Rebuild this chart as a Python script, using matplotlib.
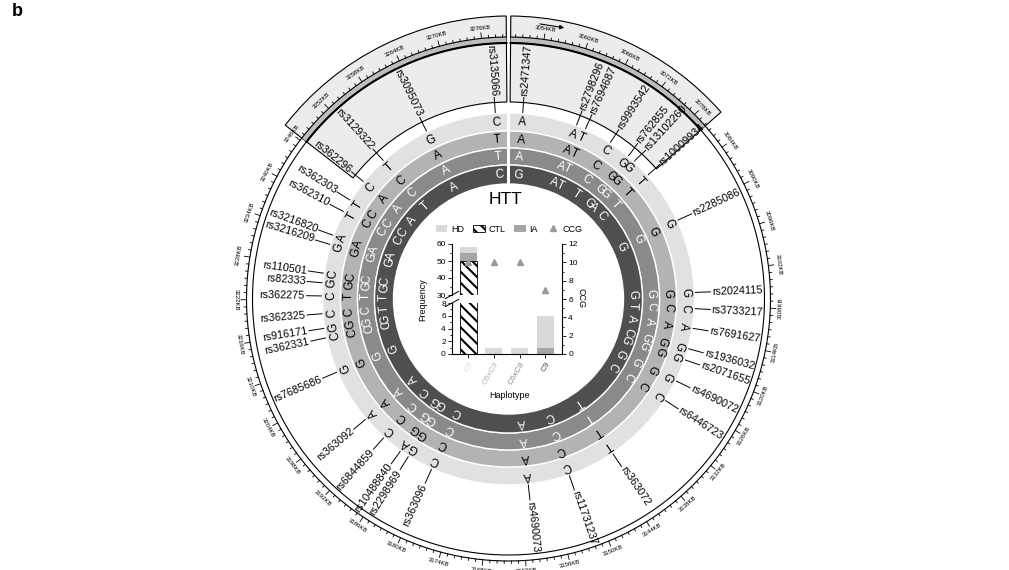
import numpy as np
import matplotlib
matplotlib.use('Agg')
import matplotlib.pyplot as plt
from matplotlib.patches import Wedge, Rectangle, Patch
from matplotlib.lines import Line2D

plt.rcParams['font.family'] = ['Liberation Sans', 'DejaVu Sans']
plt.rcParams['hatch.linewidth'] = 1.5

# ---------------- data ----------------
snp_ids = ['rs2471347', 'rs2798296', 'rs7694687', 'rs9993542', 'rs762855', 'rs13102260',
           'rs10009934', 'rs2285086', 'rs2024115', 'rs3733217', 'rs7691627', 'rs1936032',
           'rs2071655', 'rs4690072', 'rs6446723', 'rs363072', 'rs11731237', 'rs4690073',
           'rs363096', 'rs2298969', 'rs10488840', 'rs6844859', 'rs363092', 'rs7685686',
           'rs362331', 'rs916171', 'rs362325', 'rs362275', 'rs82333', 'rs110501',
           'rs3216209', 'rs3216820', 'rs362310', 'rs362303', 'rs362296', 'rs3129322',
           'rs3095073', 'rs3135066']
snp_pos_kb = [3051.8, 3062.7, 3064.6, 3070.2, 3074.6, 3076.2, 3080.0, 3090.7, 3105.4, 3108.6,
              3112.5, 3116.6, 3118.9, 3123.4, 3127.8, 3142.6, 3152.2, 3160.5, 3180.0, 3185.2,
              3187.1, 3191.3, 3196.4, 3207.3, 3214.4, 3216.3, 3219.2, 3222.7, 3225.3, 3227.2,
              3233.0, 3234.9, 3240.0, 3242.6, 3247.1, 3252.8, 3263.1, 3277.2]
hap_C6    = list("AATCGGTG" + "GCAGGGC" + "TCA" + "CGACA" + "G" + "CGC" + "CGC" + "GA" + "TT" + "CTGC")
hap_C6xC9 = list("AATCGGTG" + "GCAGGGC" + "TCA" + "CGGCA" + "G" + "CGC" + "TGC" + "GA" + "CC" + "ACAT")
hap_C6xC8 = list("AATCGGTG" + "GCAGGGC" + "TCA" + "CGGCA" + "G" + "CGC" + "TGC" + "GA" + "CC" + "ACAT")
hap_C9    = list("GATTGACG" + "GTACGGC" + "TCA" + "CGGCA" + "G" + "CGT" + "TGC" + "GA" + "CC" + "ATAC")

region_kb = (3049.0, 3279.8)
zoom_regions_kb = [(3049.3, 3080.2), (3246.4, 3279.5)]
tick_kb_major = list(range(3054, 3280, 6))
tick_kb_minor = list(range(3050, 3280, 1))

haplotypes = ['C6', 'C6xC9', 'C6xC8', 'C9']
freq_HD = [58, 1, 1, 6]
freq_IA = [55, 0, 0, 1]
freq_CTL = [50, 0, 0, 0]
ccg = [10, 10, 10, 7]

# ---------------- styles ----------------
ring_colors = ['#e1e1e1', '#b3b3b3', '#8a8a8a', '#4f4f4f']
letter_colors = ['black', 'black', 'white', 'white']
c_HD, c_IA, c_CCG = '#d9d9d9', '#a6a6a6', '#9a9a9a'

W, H = 1009, 570
fig = plt.figure(figsize=(W / 100, H / 100), dpi=100)
ax = fig.add_axes([0, 0, 1, 1])
ax.set_xlim(0, W)
ax.set_ylim(0, H)
ax.axis('off')

CX, CY = 508.5, 271.0


def kb2ang(kb):
    k0, k1 = region_kb
    return 90.0 - 360.0 * (np.asarray(kb, float) - k0) / (k1 - k0)


def pol(r, ang):
    a = np.deg2rad(ang)
    return CX + np.asarray(r) * np.cos(a), CY + np.asarray(r) * np.sin(a)


# highlighted (zoomed) regions
for k0, k1 in zoom_regions_kb:
    a0, a1 = float(kb2ang(k1)), float(kb2ang(k0))
    ax.add_patch(Wedge((CX, CY), 283, a0, a1, width=283 - 197, facecolor='#ececec',
                       edgecolor='black', lw=0.8, zorder=1))
    ax.add_patch(Wedge((CX, CY), 262, a0, a1, width=6, facecolor='#bdbdbd',
                       edgecolor='none', zorder=2))
    th = np.linspace(a0, a1, 300)
    ax.plot(*pol(256, th), color='black', lw=1.5, zorder=3)

# scale circle
th = np.linspace(float(kb2ang(3049.3)), float(kb2ang(3279.5)), 3000)
for r in (256, 262):
    ax.plot(*pol(r, th), color='black', lw=0.8, zorder=3)
for kb in tick_kb_minor:
    a = float(kb2ang(kb))
    r2 = 267.5 if kb in tick_kb_major else 264.5
    ax.plot(*pol(np.array([262, r2]), a), color='black', lw=0.6, zorder=3)
for kb in tick_kb_major:
    a = float(kb2ang(kb))
    rot = (a % 180) - 90
    x, y = pol(272.5, a)
    ax.text(x, y, f'{kb}KB', rotation=rot, ha='center', va='center',
            rotation_mode='anchor', fontsize=4.3, zorder=4)

# direction arrow
p0 = pol(277, float(kb2ang(3052.8)))
p1 = pol(277, float(kb2ang(3056.8)))
ax.annotate('', xy=p1, xytext=p0,
            arrowprops=dict(arrowstyle='-|>', color='black', lw=0.8, mutation_scale=6), zorder=5)

# haplotype rings
ring_r = [(168, 186), (151, 168), (134, 151), (115, 134)]
for (ri, ro), col in zip(ring_r, ring_colors):
    ax.add_patch(Wedge((CX, CY), ro, 0, 360, width=ro - ri, facecolor=col,
                       edgecolor='white', lw=1.0, zorder=4))
ax.add_patch(Rectangle((CX - 1.8, CY + 100), 3.6, 95, facecolor='white', edgecolor='none', zorder=5))

angs = kb2ang(snp_pos_kb)
letter_r = [177, 159.5, 142.5, 124.5]
for hap, r, col in zip([hap_C6, hap_C6xC9, hap_C6xC8, hap_C9], letter_r, letter_colors):
    for a, ch in zip(angs, hap):
        x, y = pol(r, a)
        ax.text(x, y, ch, rotation=a - 90, ha='center', va='center', rotation_mode='anchor',
                fontsize=8.5, color=col, zorder=6)


# SNP labels
def spread(vals, min_sep=3.0, iters=300):
    lab = np.array(vals, float)
    for _ in range(iters):
        moved = False
        for i in range(len(lab) - 1):
            d = lab[i] - lab[i + 1]
            if d < min_sep:
                s = (min_sep - d) / 2
                lab[i] += s
                lab[i + 1] -= s
                moved = True
        if not moved:
            break
    return lab


lab_angs = spread(angs)
for a, la, name in zip(angs, lab_angs, snp_ids):
    pa = pol(187, a)
    pb = pol(191, a)
    pc = pol(202, la)
    ax.plot([pa[0], pb[0], pc[0]], [pa[1], pb[1], pc[1]], color='black', lw=0.7, zorder=6)
    x, y = pol(203.5, la)
    if np.cos(np.deg2rad(la)) >= 0:
        rot, ha = la, 'left'
    else:
        rot, ha = la + 180, 'right'
    ax.text(x, y, name, rotation=rot, ha=ha, va='center', rotation_mode='anchor',
            fontsize=7.8, zorder=7)

fig.text(12 / W, 1 - 3 / H, 'b', fontweight='bold', fontsize=13, va='top', ha='left')

# ---------------- inner bar chart ----------------
L = 452 / W
Wd = (562 - 452) / W
ax_low = fig.add_axes([L, (H - 354) / H, Wd, (354 - 303) / H])
ax_up = fig.add_axes([L, (H - 295) / H, Wd, (295 - 244) / H])
ax_ccg = fig.add_axes([L, (H - 354) / H, Wd, (354 - 244) / H])
xpos = np.arange(len(haplotypes))
bw = 0.66
for axx in (ax_low, ax_up):
    axx.set_facecolor('none')
    for vals, kw in ((freq_HD, dict(color=c_HD, zorder=1)),
                     (freq_IA, dict(color=c_IA, zorder=2)),
                     (freq_CTL, dict(facecolor='white', edgecolor='black', hatch='\\\\\\',
                                     lw=0.6, zorder=3))):
        m = np.array(vals) > 0
        axx.bar(xpos[m], np.array(vals)[m], width=bw, **kw)
    axx.set_xlim(-0.63, 3.65)
    for s in ('top', 'right'):
        axx.spines[s].set_visible(False)
    axx.tick_params(axis='both', labelsize=6, length=3, width=0.6, pad=1.5)
    axx.tick_params(which='minor', length=1.6, width=0.6)
    for s in axx.spines.values():
        s.set_linewidth(0.8)

ax_low.set_ylim(0, 8)
ax_low.set_yticks([0, 2, 4, 6, 8])
ax_low.set_yticks([1, 3, 5, 7], minor=True)
ax_low.set_xticks(xpos)
ax_low.set_xticklabels(haplotypes, rotation=60, ha='right', va='top', rotation_mode='anchor')
for tl, col in zip(ax_low.get_xticklabels(), ring_colors):
    tl.set_color(col)

ax_up.set_ylim(30, 60)
ax_up.set_yticks([30, 40, 50, 60])
ax_up.set_yticks([35, 45, 55], minor=True)
ax_up.spines['bottom'].set_visible(False)
ax_up.set_xticks([])

# axis break marks
kw = dict(color='black', lw=0.7, clip_on=False)
ax_low.plot([-0.06, 0.06], [0.93, 1.07], transform=ax_low.transAxes, **kw)
ax_up.plot([-0.06, 0.06], [-0.07, 0.07], transform=ax_up.transAxes, **kw)

ax_ccg.set_facecolor('none')
ax_ccg.plot(xpos, ccg, '^', color=c_CCG, ms=5, zorder=5)
ax_ccg.set_xlim(-0.63, 3.65)
ax_ccg.set_ylim(0, 12)
for s in ('top', 'left', 'bottom'):
    ax_ccg.spines[s].set_visible(False)
ax_ccg.spines['right'].set_linewidth(0.8)
ax_ccg.yaxis.tick_right()
ax_ccg.set_yticks(range(0, 13, 2))
ax_ccg.set_yticks(range(1, 12, 2), minor=True)
ax_ccg.set_xticks([])
ax_ccg.tick_params(axis='y', labelsize=6, length=3, width=0.6, pad=1.5)
ax_ccg.tick_params(which='minor', length=1.6, width=0.6)

fig.text(423 / W, (H - 300) / H, 'Frequency', rotation=90, ha='center', va='center', fontsize=6.5)
fig.text(581 / W, (H - 298) / H, 'CCG', rotation=270, ha='center', va='center', fontsize=6.5)
fig.text(510 / W, (H - 395) / H, 'Haplotype', ha='center', va='center', fontsize=6.5)
fig.text(506 / W, (H - 200) / H, 'HTT', ha='center', va='center', fontsize=12.5)

handles = [Patch(facecolor=c_HD, edgecolor='none', label='HD'),
           Patch(facecolor='white', edgecolor='black', hatch='\\\\\\', lw=0.6, label='CTL'),
           Patch(facecolor=c_IA, edgecolor='none', label='IA'),
           Line2D([], [], marker='^', color=c_CCG, ls='none', ms=5, label='CCG')]
fig.legend(handles=handles, loc='center', bbox_to_anchor=(509 / W, (H - 229) / H), ncol=4,
           frameon=False, fontsize=6.5, handlelength=1.3, handleheight=0.7,
           handletextpad=0.4, columnspacing=1.0, borderpad=0)

fig.savefig('out.png', dpi=100)
